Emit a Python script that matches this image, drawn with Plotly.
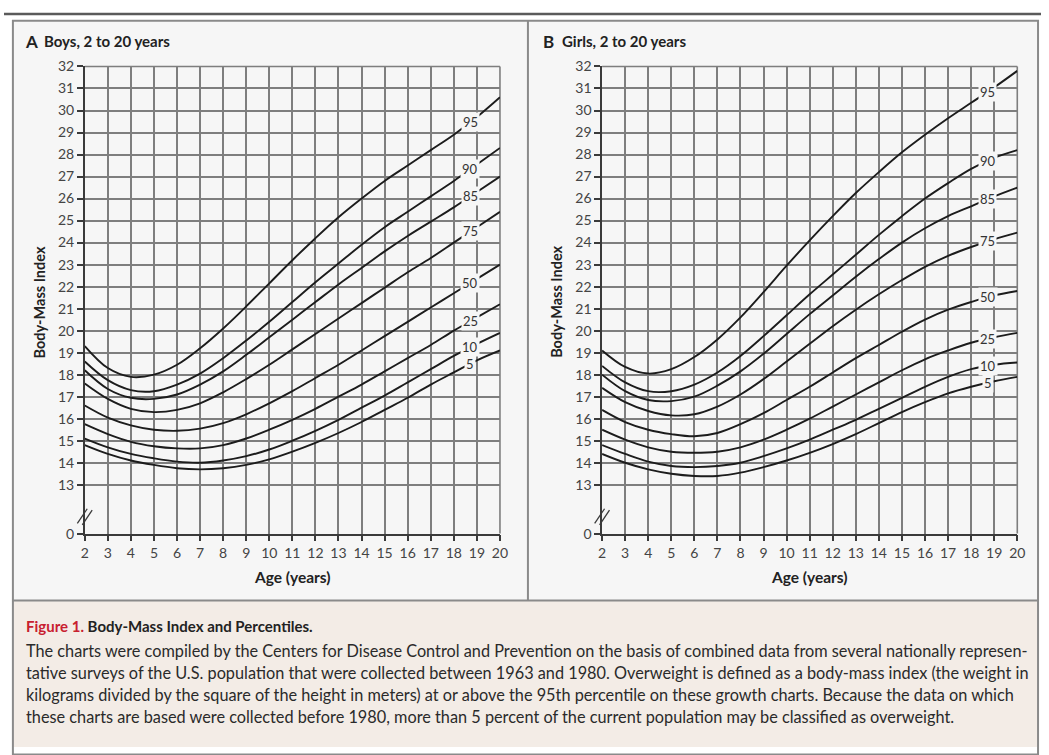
import numpy as np
import plotly.graph_objects as go

# ---------------- data ----------------
ages = list(range(2, 21))
percentiles = ["95", "90", "85", "75", "50", "25", "10", "5"]

boys_95 = [19.3, 18.3, 17.9, 18.0, 18.45, 19.2, 20.1, 21.1, 22.15, 23.2, 24.2, 25.15, 26.0, 26.8, 27.5, 28.2, 28.9, 29.7, 30.6]
boys_90 = [18.6, 17.75, 17.3, 17.25, 17.55, 18.05, 18.75, 19.55, 20.4, 21.3, 22.2, 23.05, 23.9, 24.7, 25.4, 26.1, 26.8, 27.55, 28.3]
boys_85 = [18.2, 17.35, 16.95, 16.9, 17.1, 17.55, 18.15, 18.9, 19.7, 20.5, 21.3, 22.1, 22.85, 23.6, 24.3, 24.95, 25.6, 26.3, 27.0]
boys_75 = [17.6, 16.9, 16.45, 16.3, 16.4, 16.7, 17.2, 17.8, 18.45, 19.15, 19.85, 20.55, 21.25, 21.95, 22.65, 23.3, 24.0, 24.7, 25.4]
boys_50 = [16.6, 16.05, 15.7, 15.5, 15.45, 15.55, 15.8, 16.2, 16.7, 17.25, 17.85, 18.45, 19.1, 19.75, 20.4, 21.05, 21.7, 22.35, 23.0]
boys_25 = [15.75, 15.3, 14.95, 14.75, 14.65, 14.65, 14.8, 15.1, 15.5, 15.95, 16.45, 17.0, 17.55, 18.15, 18.75, 19.35, 20.0, 20.6, 21.2]
boys_10 = [15.1, 14.7, 14.4, 14.2, 14.05, 14.0, 14.1, 14.3, 14.6, 15.0, 15.45, 15.95, 16.5, 17.05, 17.65, 18.25, 18.85, 19.4, 19.9]
boys_5 = [14.8, 14.4, 14.1, 13.9, 13.75, 13.7, 13.75, 13.9, 14.15, 14.5, 14.9, 15.35, 15.85, 16.4, 16.95, 17.55, 18.1, 18.65, 19.1]

girls_95 = [19.1, 18.35, 18.05, 18.25, 18.8, 19.6, 20.6, 21.75, 22.95, 24.1, 25.2, 26.25, 27.2, 28.1, 28.9, 29.65, 30.35, 31.05, 31.8]
girls_90 = [18.4, 17.65, 17.25, 17.25, 17.55, 18.1, 18.85, 19.75, 20.7, 21.65, 22.55, 23.45, 24.35, 25.2, 26.0, 26.7, 27.35, 27.85, 28.2]
girls_85 = [18.0, 17.25, 16.85, 16.8, 17.0, 17.5, 18.15, 18.95, 19.85, 20.75, 21.6, 22.45, 23.25, 24.0, 24.65, 25.2, 25.65, 26.1, 26.5]
girls_75 = [17.4, 16.75, 16.35, 16.15, 16.2, 16.55, 17.1, 17.8, 18.6, 19.4, 20.2, 20.95, 21.65, 22.3, 22.9, 23.4, 23.8, 24.15, 24.45]
girls_50 = [16.4, 15.85, 15.5, 15.3, 15.2, 15.35, 15.75, 16.25, 16.85, 17.45, 18.1, 18.75, 19.35, 19.95, 20.5, 20.95, 21.3, 21.6, 21.8]
girls_25 = [15.5, 15.05, 14.7, 14.5, 14.45, 14.5, 14.7, 15.05, 15.5, 16.0, 16.55, 17.1, 17.65, 18.2, 18.7, 19.1, 19.45, 19.7, 19.9]
girls_10 = [14.8, 14.4, 14.05, 13.85, 13.8, 13.85, 14.0, 14.3, 14.65, 15.05, 15.5, 15.95, 16.45, 16.95, 17.45, 17.9, 18.25, 18.45, 18.55]
girls_5 = [14.4, 14.0, 13.7, 13.5, 13.4, 13.4, 13.55, 13.8, 14.1, 14.45, 14.85, 15.3, 15.8, 16.3, 16.75, 17.15, 17.45, 17.7, 17.9]

boys = [boys_95, boys_90, boys_85, boys_75, boys_50, boys_25, boys_10, boys_5]
girls = [girls_95, girls_90, girls_85, girls_75, girls_50, girls_25, girls_10, girls_5]

y_ticks = list(range(13, 33))
x_ticks = list(range(2, 21))
label_age = 18.72

caption_title = "Body-Mass Index and Percentiles."
caption_lines = [
    "The charts were compiled by the Centers for Disease Control and Prevention on the basis of combined data from several nationally represen-",
    "tative surveys of the U.S. population that were collected between 1963 and 1980. Overweight is defined as a body-mass index (the weight in",
    "kilograms divided by the square of the height in meters) at or above the 95th percentile on these growth charts. Because the data on which",
    "these charts are based were collected before 1980, more than 5 percent of the current population may be classified as overweight.",
]

# ---------------- layout geometry ----------------
W, H = 1049, 755
FONT = "Lato, 'Open Sans', sans-serif"
PANEL_BG = "#f6f6f6"
CAPTION_BG = "#f3ece6"
GRID = "#7e7e7e"
INK = "#333333"


def px(x):
    return x / W


def py(y):
    return 1 - y / H


plot_top, plot_bottom, y13_pix = 58.8, 536.7, 486.7
unit = (y13_pix - plot_top) / 19
y_zero = 13 - (plot_bottom - y13_pix) / unit

panels = [
    dict(x0=81.7, x1=501.7, data=boys, letter="A", title="Boys, 2 to 20 years", ax="x", ay="y"),
    dict(x0=605.0, x1=1025.0, data=girls, letter="B", title="Girls, 2 to 20 years", ax="x2", ay="y2"),
]

fig = go.Figure()
shapes = []
annotations = []

# background areas and frame
shapes.append(dict(type="rect", xref="paper", yref="paper", x0=px(9), x1=px(1046), y0=py(605), y1=py(12),
                   fillcolor=PANEL_BG, line=dict(width=0), layer="below"))
shapes.append(dict(type="rect", xref="paper", yref="paper", x0=px(9), x1=px(1046), y0=0, y1=py(605),
                   fillcolor=CAPTION_BG, line=dict(width=0), layer="below"))
shapes.append(dict(type="line", xref="paper", yref="paper", x0=0, x1=1, y0=py(5), y1=py(5),
                   line=dict(color="#5a5a5a", width=2.5)))
shapes.append(dict(type="rect", xref="paper", yref="paper", x0=px(9), x1=px(1046), y0=-0.01, y1=py(12),
                   line=dict(color="#8a8a8a", width=2), fillcolor="rgba(0,0,0,0)"))
shapes.append(dict(type="line", xref="paper", yref="paper", x0=px(9), x1=px(1046), y0=py(605), y1=py(605),
                   line=dict(color="#8a8a8a", width=2)))
shapes.append(dict(type="line", xref="paper", yref="paper", x0=px(530), x1=px(530), y0=py(605), y1=py(12),
                   line=dict(color="#8a8a8a", width=2)))

for i, p in enumerate(panels):
    xa = "xaxis" if i == 0 else "xaxis2"
    ya = "yaxis" if i == 0 else "yaxis2"
    # top and right border of the grid
    shapes.append(dict(type="line", xref=p["ax"] + " domain", yref=p["ay"] + " domain", x0=0, x1=1, y0=1, y1=1,
                       line=dict(color=GRID, width=1.6), layer="below"))
    shapes.append(dict(type="line", xref=p["ax"] + " domain", yref=p["ay"] + " domain", x0=1, x1=1, y0=0, y1=1,
                       line=dict(color=GRID, width=1.6), layer="below"))
    for name, vals in zip(percentiles, p["data"]):
        fig.add_trace(go.Scatter(x=ages, y=vals, mode="lines",
                                 line=dict(color="#1c1c1c", width=1.9, shape="spline", smoothing=1.0),
                                 xaxis=p["ax"], yaxis=p["ay"], showlegend=False, hoverinfo="skip"))
        annotations.append(dict(x=label_age, y=float(np.interp(label_age, ages, vals)), xref=p["ax"], yref=p["ay"],
                                text=name, showarrow=False, font=dict(family=FONT, size=13, color=INK),
                                bgcolor=PANEL_BG, borderpad=1, xanchor="center", yanchor="middle"))
    fig.update_layout({
        xa: dict(domain=[px(p["x0"]), px(p["x1"])], range=[2, 20], tickvals=x_ticks, ticktext=[str(v) for v in x_ticks],
                 showgrid=True, gridcolor=GRID, gridwidth=1.6, showline=True, linecolor="#3a3a3a", linewidth=1.5,
                 ticks="outside", ticklen=6, tickwidth=1.5, tickcolor="#3a3a3a", zeroline=False,
                 tickfont=dict(family=FONT, size=14, color="#444"), anchor=p["ay"], fixedrange=True),
        ya: dict(domain=[py(plot_bottom), py(plot_top)], range=[y_zero, 32], tickvals=[y_zero] + y_ticks,
                 ticktext=["0"] + [str(v) for v in y_ticks],
                 showgrid=True, gridcolor=GRID, gridwidth=1.6, showline=True, linecolor="#3a3a3a", linewidth=1.5,
                 ticks="outside", ticklen=6, tickwidth=1.5, tickcolor="#3a3a3a", zeroline=False,
                 tickfont=dict(family=FONT, size=14, color="#444"), anchor=p["ax"], fixedrange=True),
    })
    # axis-break marks
    bx = p["x0"]
    for off in (-2.5, 2.5):
        shapes.append(dict(type="line", xref="paper", yref="paper",
                           x0=px(bx - 5 + off), y0=py(527 + off * 0.3), x1=px(bx + 5 + off), y1=py(512 + off * 0.3),
                           line=dict(color="#3a3a3a", width=1.3)))
    # panel titles
    annotations.append(dict(x=px(p["x0"] - 62), y=py(33), xref="paper", yref="paper", text="<b>" + p["letter"] + "</b>",
                            showarrow=False, xanchor="left", yanchor="middle", font=dict(family=FONT, size=17, color="#222")))
    annotations.append(dict(x=px(p["x0"] - 43), y=py(33), xref="paper", yref="paper", text="<b>" + p["title"] + "</b>",
                            showarrow=False, xanchor="left", yanchor="middle", font=dict(family=FONT, size=15, color="#222")))
    # axis titles
    annotations.append(dict(x=px(p["x0"] - 46), y=py(300), xref="paper", yref="paper", text="<b>Body-Mass Index</b>",
                            textangle=-90, showarrow=False, xanchor="center", yanchor="middle",
                            font=dict(family=FONT, size=14.5, color="#222")))
    annotations.append(dict(x=px((p["x0"] + p["x1"]) / 2), y=py(581), xref="paper", yref="paper", text="<b>Age (years)</b>",
                            showarrow=False, xanchor="center", yanchor="middle", font=dict(family=FONT, size=15.5, color="#222")))

# caption
annotations.append(dict(x=px(20), y=py(631), xref="paper", yref="paper",
                        text="<b><span style='color:#c8202f'>Figure 1.</span> " + caption_title + "</b>",
                        showarrow=False, xanchor="left", yanchor="middle", font=dict(family=FONT, size=15, color="#222")))
for k, line in enumerate(caption_lines):
    annotations.append(dict(x=px(20), y=py(656 + 22.5 * k), xref="paper", yref="paper", text=line,
                            showarrow=False, xanchor="left", yanchor="middle", font=dict(family=FONT, size=16.3, color="#2a2a2a")))

fig.update_layout(width=W, height=H, margin=dict(l=0, r=0, t=0, b=0), paper_bgcolor="white",
                  plot_bgcolor=PANEL_BG, shapes=shapes, annotations=annotations, showlegend=False)

fig.write_html("out.html", config={"displayModeBar": False}, post_script="document.body.style.margin='0';")
